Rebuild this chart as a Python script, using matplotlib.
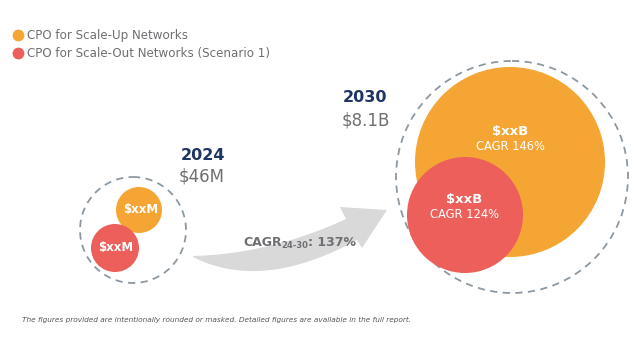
import numpy as np
import matplotlib.pyplot as plt
from matplotlib.patches import Circle, Polygon
from matplotlib.lines import Line2D
from matplotlib.transforms import offset_copy

# dati
series = ["CPO for Scale-Up Networks", "CPO for Scale-Out Networks (Scenario 1)"]
colors = ["#F5A533", "#EC5F5B"]
years = ["2024", "2030"]
totals = ["$46M", "$8.1B"]
values_2024 = ["$xxM", "$xxM"]
values_2030 = ["$xxB", "$xxB"]
cagr_2030 = ["CAGR 146%", "CAGR 124%"]
cagr_total = "137%"
note = "The figures provided are intentionally rounded or masked. Detailed figures are available in the full report."

NAVY = "#1E3464"
GREY = "#6E6F72"
DASH = "#8C98A2"

plt.rcParams['font.family'] = ['DejaVu Sans']

fig = plt.figure(figsize=(6.4, 3.6), dpi=100)
ax = fig.add_axes([0, 0, 1, 1])
ax.set_xlim(0, 640)
ax.set_ylim(360, 0)
ax.set_aspect('equal')
ax.axis('off')

# cerchi tratteggiati
ax.add_patch(Circle((133, 230), 53, fill=False, ec=DASH, lw=1.3, ls=(0, (4, 3))))
ax.add_patch(Circle((512, 177), 116, fill=False, ec=DASH, lw=1.3, ls=(0, (4, 3))))

# 2024
ax.add_patch(Circle((139, 210), 23, color=colors[0], lw=0))
ax.add_patch(Circle((115, 248), 24, color=colors[1], lw=0))
ax.text(141, 210, values_2024[0], color="white", fontsize=8.5, fontweight="bold", ha="center", va="center")
ax.text(116, 248, values_2024[1], color="white", fontsize=8.5, fontweight="bold", ha="center", va="center")
ax.text(181, 156, years[0], color=NAVY, fontsize=11.5, fontweight="bold", va="center")
ax.text(179, 176, totals[0], color=GREY, fontsize=12, va="center")

# 2030
ax.add_patch(Circle((510, 162), 95, color=colors[0], lw=0))
ax.add_patch(Circle((465, 215), 58, color=colors[1], lw=0))
ax.text(510, 131, values_2030[0], color="white", fontsize=9.5, fontweight="bold", ha="center", va="center")
ax.text(510, 147, cagr_2030[0], color="white", fontsize=8.3, ha="center", va="center")
ax.text(464, 199, values_2030[1], color="white", fontsize=9.5, fontweight="bold", ha="center", va="center")
ax.text(464, 214, cagr_2030[1], color="white", fontsize=8.3, ha="center", va="center")
ax.text(343, 98, years[1], color=NAVY, fontsize=11.5, fontweight="bold", va="center")
ax.text(342, 120, totals[1], color=GREY, fontsize=12, va="center")


def bezier(a, b, c, n=40):
    t = np.linspace(0, 1, n)[:, None]
    return (1 - t) ** 2 * np.array(a) + 2 * (1 - t) * t * np.array(b) + t ** 2 * np.array(c)


# freccia curva (sagoma)
top = bezier((193, 256), (270, 254), (346, 219))
bottom = bezier((193, 257), (262, 292), (357, 240))
head = np.array([(340, 207), (387, 210), (362, 248)])
ax.add_patch(Polygon(np.vstack([top, head, bottom[::-1]]), closed=True, color="#D9D9D9", lw=0, zorder=1))

fig.canvas.draw()
r = fig.canvas.get_renderer()
t1 = ax.text(243, 242, "CAGR", color=GREY, fontsize=9, fontweight="bold", va="center", zorder=3)
w1 = t1.get_window_extent(r).width * 72 / fig.dpi
t2 = ax.text(243, 245, "24-30", color=GREY, fontsize=6, fontweight="bold", va="center", zorder=3,
             transform=offset_copy(ax.transData, fig=fig, x=w1, y=0, units="points"))
w2 = t2.get_window_extent(r).width * 72 / fig.dpi
ax.text(243, 242, ": " + cagr_total, color=GREY, fontsize=9, fontweight="bold", va="center", zorder=3,
        transform=offset_copy(ax.transData, fig=fig, x=w1 + w2, y=0, units="points"))

# legenda
handles = [Line2D([], [], ls="none", marker="o", ms=7.5, color=c) for c in colors]
ax.legend(handles, series, loc="upper left", bbox_to_anchor=(0.0, 0.95), frameon=False,
          fontsize=8.6, handletextpad=0.2, labelspacing=0.45, handlelength=1.2,
          labelcolor=GREY)

ax.text(22, 320, note, color="#555555", fontsize=5.3, style="italic", va="center")

fig.savefig("out.png", dpi=100)
